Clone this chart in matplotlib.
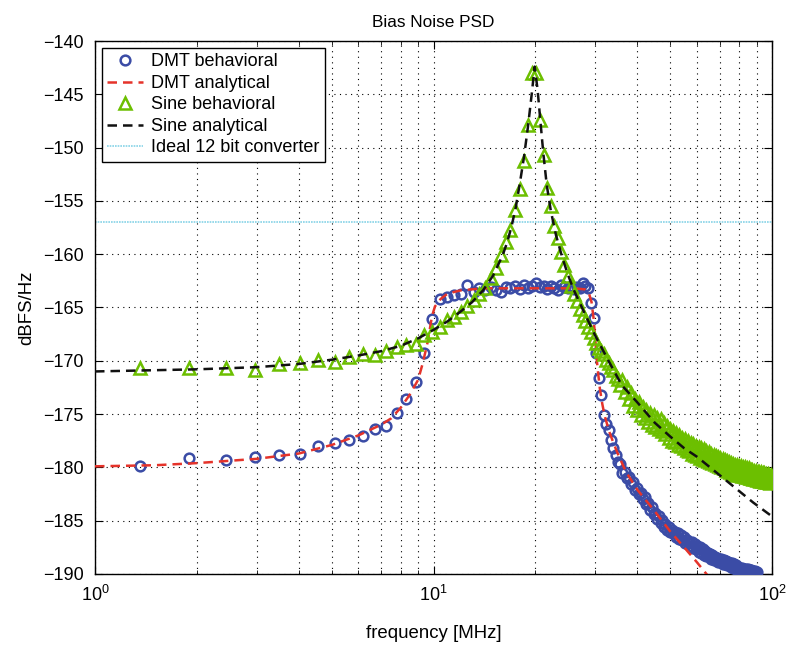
import matplotlib
matplotlib.use("Agg")
import matplotlib.pyplot as plt
from matplotlib.ticker import LogLocator, FixedLocator, NullFormatter

plt.rcParams['font.family'] = ['Liberation Sans', 'DejaVu Sans']
plt.rcParams['mathtext.fontset'] = 'custom'
plt.rcParams['mathtext.rm'] = 'Liberation Sans'

# frequency grid of the behavioral simulations [MHz]
freq = [
    1.36, 1.90, 2.43, 2.97, 3.50, 4.04, 4.57, 5.11, 5.64, 6.18,
    6.71, 7.25, 7.78, 8.32, 8.85, 9.39, 9.92, 10.46, 10.99, 11.53,
    12.06, 12.60, 13.13, 13.67, 14.20, 14.74, 15.27, 15.81, 16.34, 16.88,
    17.41, 17.95, 18.48, 19.02, 19.55, 20.09, 20.62, 21.16, 21.69, 22.23,
    22.76, 23.30, 23.83, 24.37, 24.90, 25.44, 25.97, 26.51, 27.04, 27.58,
    28.11, 28.65, 29.18, 29.72, 30.25, 30.79, 31.32, 31.86, 32.39, 32.93,
    33.46, 34.00, 34.53, 35.07, 35.60, 36.14, 36.67, 37.21, 37.74, 38.28,
    38.81, 39.35, 39.88, 40.42, 40.95, 41.49, 42.02, 42.56, 43.09, 43.63,
    44.16, 44.70, 45.23, 45.77, 46.30, 46.84, 47.37, 47.91, 48.44, 48.98,
    49.51, 50.05, 50.58, 51.12, 51.65, 52.19, 52.72, 53.26, 53.79, 54.33,
    54.86, 55.40, 55.93, 56.47, 57.00, 57.54, 58.07, 58.61, 59.14, 59.68,
    60.21, 60.75, 61.28, 61.82, 62.35, 62.89, 63.42, 63.96, 64.49, 65.03,
    65.56, 66.10, 66.63, 67.17, 67.70, 68.24, 68.77, 69.31, 69.84, 70.38,
    70.91, 71.45, 71.98, 72.52, 73.05, 73.59, 74.12, 74.66, 75.19, 75.73,
    76.26, 76.80, 77.33, 77.87, 78.40, 78.94, 79.47, 80.01, 80.54, 81.08,
    81.61, 82.15, 82.68, 83.22, 83.75, 84.29, 84.82, 85.36, 85.89, 86.43,
    86.96, 87.50, 88.03, 88.57, 89.10, 89.64, 90.17, 90.71, 91.24, 91.78,
    92.31, 92.85, 93.38, 93.92, 94.45, 94.99, 95.52, 96.06, 96.59, 97.13,
    97.66, 98.20, 98.73, 99.27, 99.80,
]

# DMT behavioral PSD [dBFS/Hz] (first 167 frequency bins)
dmt_behavioral = [
    -179.9, -179.1, -179.3, -179.0, -178.8, -178.7, -178.0, -177.7, -177.4, -177.1,
    -176.4, -176.1, -174.9, -173.6, -172.0, -169.3, -166.1, -164.2, -164.0, -163.8,
    -163.7, -162.9, -163.5, -163.2, -163.4, -163.1, -163.4, -163.5, -163.1, -163.2,
    -163.0, -163.3, -162.9, -163.2, -163.0, -162.7, -163.1, -163.0, -163.3, -163.0,
    -163.2, -163.4, -162.9, -163.1, -163.2, -163.0, -163.3, -163.1, -163.2, -162.7,
    -163.0, -163.2, -164.6, -166.0, -169.3, -171.6, -173.2, -175.1, -175.9, -176.5,
    -177.4, -178.2, -178.8, -179.5, -179.7, -180.5, -180.4, -181.0, -180.9, -181.6,
    -181.4, -182.1, -181.9, -182.5, -182.4, -183.0, -182.8, -183.4, -183.3, -184.0,
    -183.7, -184.4, -184.3, -184.8, -184.6, -185.2, -184.9, -185.6, -185.3, -185.9,
    -185.6, -186.1, -185.9, -186.2, -186.1, -186.5, -186.2, -186.7, -186.3, -186.8,
    -186.5, -187.1, -186.8, -187.1, -187.0, -187.4, -187.0, -187.6, -187.2, -187.7,
    -187.4, -187.9, -187.5, -188.0, -187.7, -188.2, -187.8, -188.3, -188.0, -188.3,
    -188.1, -188.6, -188.2, -188.7, -188.4, -188.7, -188.5, -188.9, -188.6, -188.9,
    -188.6, -189.1, -188.7, -189.1, -188.8, -189.2, -188.9, -189.2, -189.0, -189.3,
    -189.0, -189.4, -189.1, -189.4, -189.2, -189.6, -189.3, -189.6, -189.4, -189.7,
    -189.4, -189.7, -189.5, -189.8, -189.5, -189.8, -189.5, -189.8, -189.6, -189.9,
    -189.6, -189.9, -189.7, -190.0, -189.7, -190.0, -189.8,
]

# Sine behavioral PSD [dBFS/Hz]
sine_behavioral = [
    -170.7, -170.7, -170.7, -170.9, -170.3, -170.2, -169.9, -170.1, -169.6, -169.4,
    -169.5, -169.1, -168.7, -168.5, -168.4, -167.6, -167.3, -166.8, -166.2, -165.9,
    -165.4, -164.9, -164.3, -163.7, -163.2, -162.2, -161.3, -160.1, -158.9, -157.7,
    -155.9, -153.9, -151.3, -147.9, -143.0, -143.0, -147.4, -150.7, -153.8, -155.5,
    -157.4, -158.5, -159.8, -161.0, -162.0, -163.0, -163.7, -164.4, -165.1, -165.7,
    -166.3, -166.8, -167.3, -167.9, -168.3, -168.8, -169.1, -169.4, -169.9, -170.2,
    -170.6, -170.9, -171.4, -171.7, -172.3, -171.8, -172.9, -172.5, -173.6, -173.0,
    -174.2, -173.6, -174.6, -173.9, -175.1, -174.3, -175.4, -174.6, -175.7, -174.9,
    -176.0, -175.1, -176.2, -175.4, -176.4, -175.5, -176.6, -175.8, -176.9, -176.1,
    -177.2, -176.4, -177.5, -176.6, -177.6, -176.8, -177.9, -177.0, -178.0, -177.2,
    -178.2, -177.3, -178.4, -177.5, -178.5, -177.7, -178.7, -177.8, -178.8, -178.0,
    -178.9, -178.1, -179.1, -178.2, -179.2, -178.3, -179.3, -178.5, -179.4, -178.6,
    -179.5, -178.7, -179.6, -178.8, -179.7, -178.9, -179.8, -179.0, -179.9, -179.1,
    -180.0, -179.2, -180.1, -179.3, -180.2, -179.4, -180.3, -179.5, -180.4, -179.6,
    -180.5, -179.7, -180.6, -179.8, -180.7, -179.8, -180.6, -179.9, -180.7, -179.9,
    -180.8, -180.0, -180.8, -180.0, -180.9, -180.1, -180.9, -180.1, -181.0, -180.2,
    -181.0, -180.2, -181.1, -180.3, -181.1, -180.3, -181.2, -180.4, -181.2, -180.4,
    -181.3, -180.4, -181.3, -180.5, -181.3, -180.5, -181.4, -180.6, -181.4, -180.6,
    -181.4, -180.7, -181.5, -180.7, -181.3,
]

# DMT analytical curve
dmt_an_freq = [1.0, 1.5, 2.0, 3.0, 4.0, 5.0, 6.0, 7.0, 7.5, 8.0, 8.5, 9.0, 9.3, 9.6,
               9.9, 10.1, 10.5, 11.0, 12.0, 14.0, 20.0, 26.0, 28.0, 28.8, 29.3, 29.7,
               30.1, 30.5, 31.0, 31.5, 32.0, 33.0, 34.0, 35.0, 37.0, 40.0, 45.0, 50.0,
               55.0, 60.0, 64.0, 66.0]
dmt_an_db = [-179.9, -179.8, -179.6, -179.2, -178.7, -177.9, -177.0, -176.0, -175.4,
             -174.4, -173.2, -171.8, -170.2, -168.3, -165.8, -164.9, -164.2, -163.7,
             -163.4, -163.2, -163.2, -163.2, -163.3, -163.7, -164.5, -166.0, -168.3,
             -170.6, -172.6, -174.0, -175.1, -176.6, -177.7, -178.7, -180.4, -182.1,
             -184.1, -186.0, -187.5, -188.9, -190.0, -190.6]

# Sine analytical curve
sine_an_freq = [1.0, 2.0, 3.0, 4.0, 5.0, 6.0, 7.0, 8.0, 9.0, 10.0, 11.0, 12.0, 13.0,
                14.0, 15.0, 16.0, 16.5, 17.0, 17.5, 18.0, 18.5, 19.0, 19.5, 19.9, 20.3,
                20.7, 21.1, 21.6, 22.2, 23.0, 24.0, 25.0, 26.0, 28.0, 30.0, 33.0, 36.0,
                40.0, 45.0, 50.0, 55.0, 60.0, 68.0, 77.0, 88.0, 100.0]
sine_an_db = [-171.0, -170.8, -170.6, -170.3, -169.9, -169.5, -169.1, -168.6, -167.9,
              -167.1, -166.3, -165.4, -164.5, -163.4, -162.0, -160.1, -158.9, -157.4,
              -155.6, -153.3, -150.9, -148.1, -145.0, -142.4, -144.6, -147.6, -150.5,
              -153.5, -155.9, -158.2, -160.3, -162.0, -163.4, -165.6, -167.6, -170.1,
              -172.3, -173.9, -175.8, -177.1, -178.2, -179.0, -180.4, -181.8, -183.3,
              -184.6]

ideal_12bit_db = -157.0

fig = plt.figure(figsize=(7.89, 6.55), dpi=100)
ax = fig.add_axes([0.1204, 0.1237, 0.8581, 0.8137])

blue = '#3b4ca6'
red = '#e5332a'
green = '#6cbf00'
cyan = '#86d3e6'

n_dmt = len(dmt_behavioral)
ax.plot(freq[:n_dmt], dmt_behavioral, linestyle='none', marker='o', markersize=7,
        markerfacecolor='none', markeredgecolor=blue, markeredgewidth=1.8,
        label='DMT behavioral', zorder=3)
ax.plot(dmt_an_freq, dmt_an_db, color=red, linewidth=1.8, dashes=(3.8, 2.4),
        label='DMT analytical', zorder=4)
ax.plot(freq, sine_behavioral, linestyle='none', marker='^', markersize=8,
        markerfacecolor='none', markeredgecolor=green, markeredgewidth=1.8,
        label='Sine behavioral', zorder=5)
ax.plot(sine_an_freq, sine_an_db, color='#111111', linewidth=1.8, dashes=(3.8, 2.4),
        label='Sine analytical', zorder=6)
ax.axhline(ideal_12bit_db, color=cyan, linewidth=1.2, linestyle=(0, (1, 0.6)),
           label='Ideal 12 bit converter', zorder=2)

ax.set_xscale('log')
ax.set_xlim(1, 100)
ax.set_ylim(-190, -140)
ax.set_yticks([-140, -145, -150, -155, -160, -165, -170, -175, -180, -185, -190])
ax.set_yticklabels(['\u2212140', '\u2212145', '\u2212150', '\u2212155', '\u2212160',
                    '\u2212165', '\u2212170', '\u2212175', '\u2212180', '\u2212185',
                    '\u2212190'])
ax.xaxis.set_major_locator(FixedLocator([1, 10, 100]))
ax.set_xticklabels(['$10^0$', '$10^1$', '$10^2$'])
ax.xaxis.set_minor_locator(LogLocator(base=10, subs=range(2, 10), numticks=20))
ax.xaxis.set_minor_formatter(NullFormatter())

ax.grid(True, which='major', axis='both', color='black', linestyle=(0, (1, 4)),
        linewidth=0.8)
ax.grid(True, which='minor', axis='x', color='black', linestyle=(0, (1, 4)),
        linewidth=0.8)
ax.set_axisbelow(True)

ax.tick_params(which='both', direction='in', top=True, right=True, labelsize=13,
               colors='black')
ax.tick_params(which='major', length=6, width=0.8, pad=8)
ax.tick_params(which='minor', length=3, width=0.6)
for s in ax.spines.values():
    s.set_linewidth(1.0)

ax.set_xlabel('frequency [MHz]', fontsize=13.4, labelpad=14)
ax.set_ylabel('dBFS/Hz', fontsize=13.4, labelpad=6)
ax.set_title('Bias Noise PSD', fontsize=12.4, pad=10)

leg = ax.legend(loc='upper left', bbox_to_anchor=(0.0103, 0.987), fontsize=13,
                numpoints=1, handlelength=2.0, handletextpad=0.4, labelspacing=0.25,
                borderpad=0.3, fancybox=False, framealpha=1, edgecolor='black',
                borderaxespad=0.0)
leg.get_frame().set_linewidth(1.0)

fig.savefig('out.png', dpi=100)
